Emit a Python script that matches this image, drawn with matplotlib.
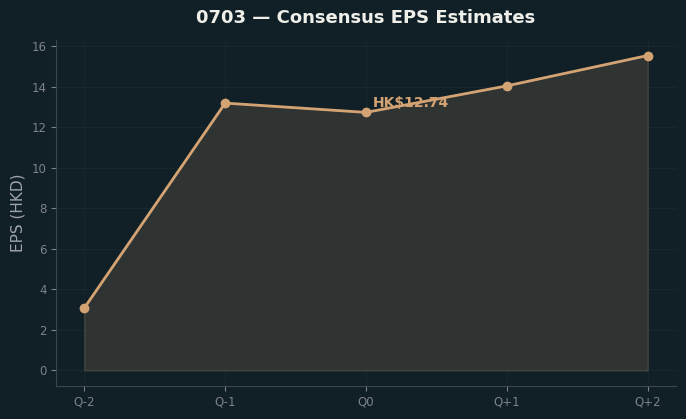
import matplotlib
matplotlib.use("Agg")
import matplotlib.pyplot as plt

# Data
quarters = ["Q-2", "Q-1", "Q0", "Q+1", "Q+2"]
eps = [3.08, 13.2, 12.74, 14.05, 15.55]
current_label = "HK$12.74"

bg = "#111f27"
line_color = "#d4a373"

fig, ax = plt.subplots(figsize=(6.86, 4.19), dpi=100)
fig.patch.set_facecolor(bg)
ax.set_facecolor(bg)

x = range(len(quarters))
ax.fill_between(x, eps, 0, color="#2f3433", edgecolor="#45463e", linewidth=1)
ax.plot(x, eps, color=line_color, linewidth=2, marker="o", markersize=6)

ax.annotate(current_label, (2, eps[2]), xytext=(5, 4), textcoords="offset points",
            color=line_color, fontsize=10, fontweight="bold")

ax.set_xticks(list(x))
ax.set_xticklabels(quarters)
ax.set_ylabel("EPS (HKD)", color="#a0a4a8", fontsize=11)
ax.set_title("0703 — Consensus EPS Estimates", color="#f0f0ea", fontsize=13,
             fontweight="bold", pad=12)

ax.tick_params(colors="#7d8288", labelsize=8.5)
ax.grid(True, color="#18272e", linewidth=0.8)
ax.set_axisbelow(True)
for side in ["top", "right"]:
    ax.spines[side].set_visible(False)
for side in ["left", "bottom"]:
    ax.spines[side].set_color("#3c474d")

plt.subplots_adjust(left=0.082, right=0.985, top=0.905, bottom=0.079)
plt.savefig("out.png", facecolor=bg)
